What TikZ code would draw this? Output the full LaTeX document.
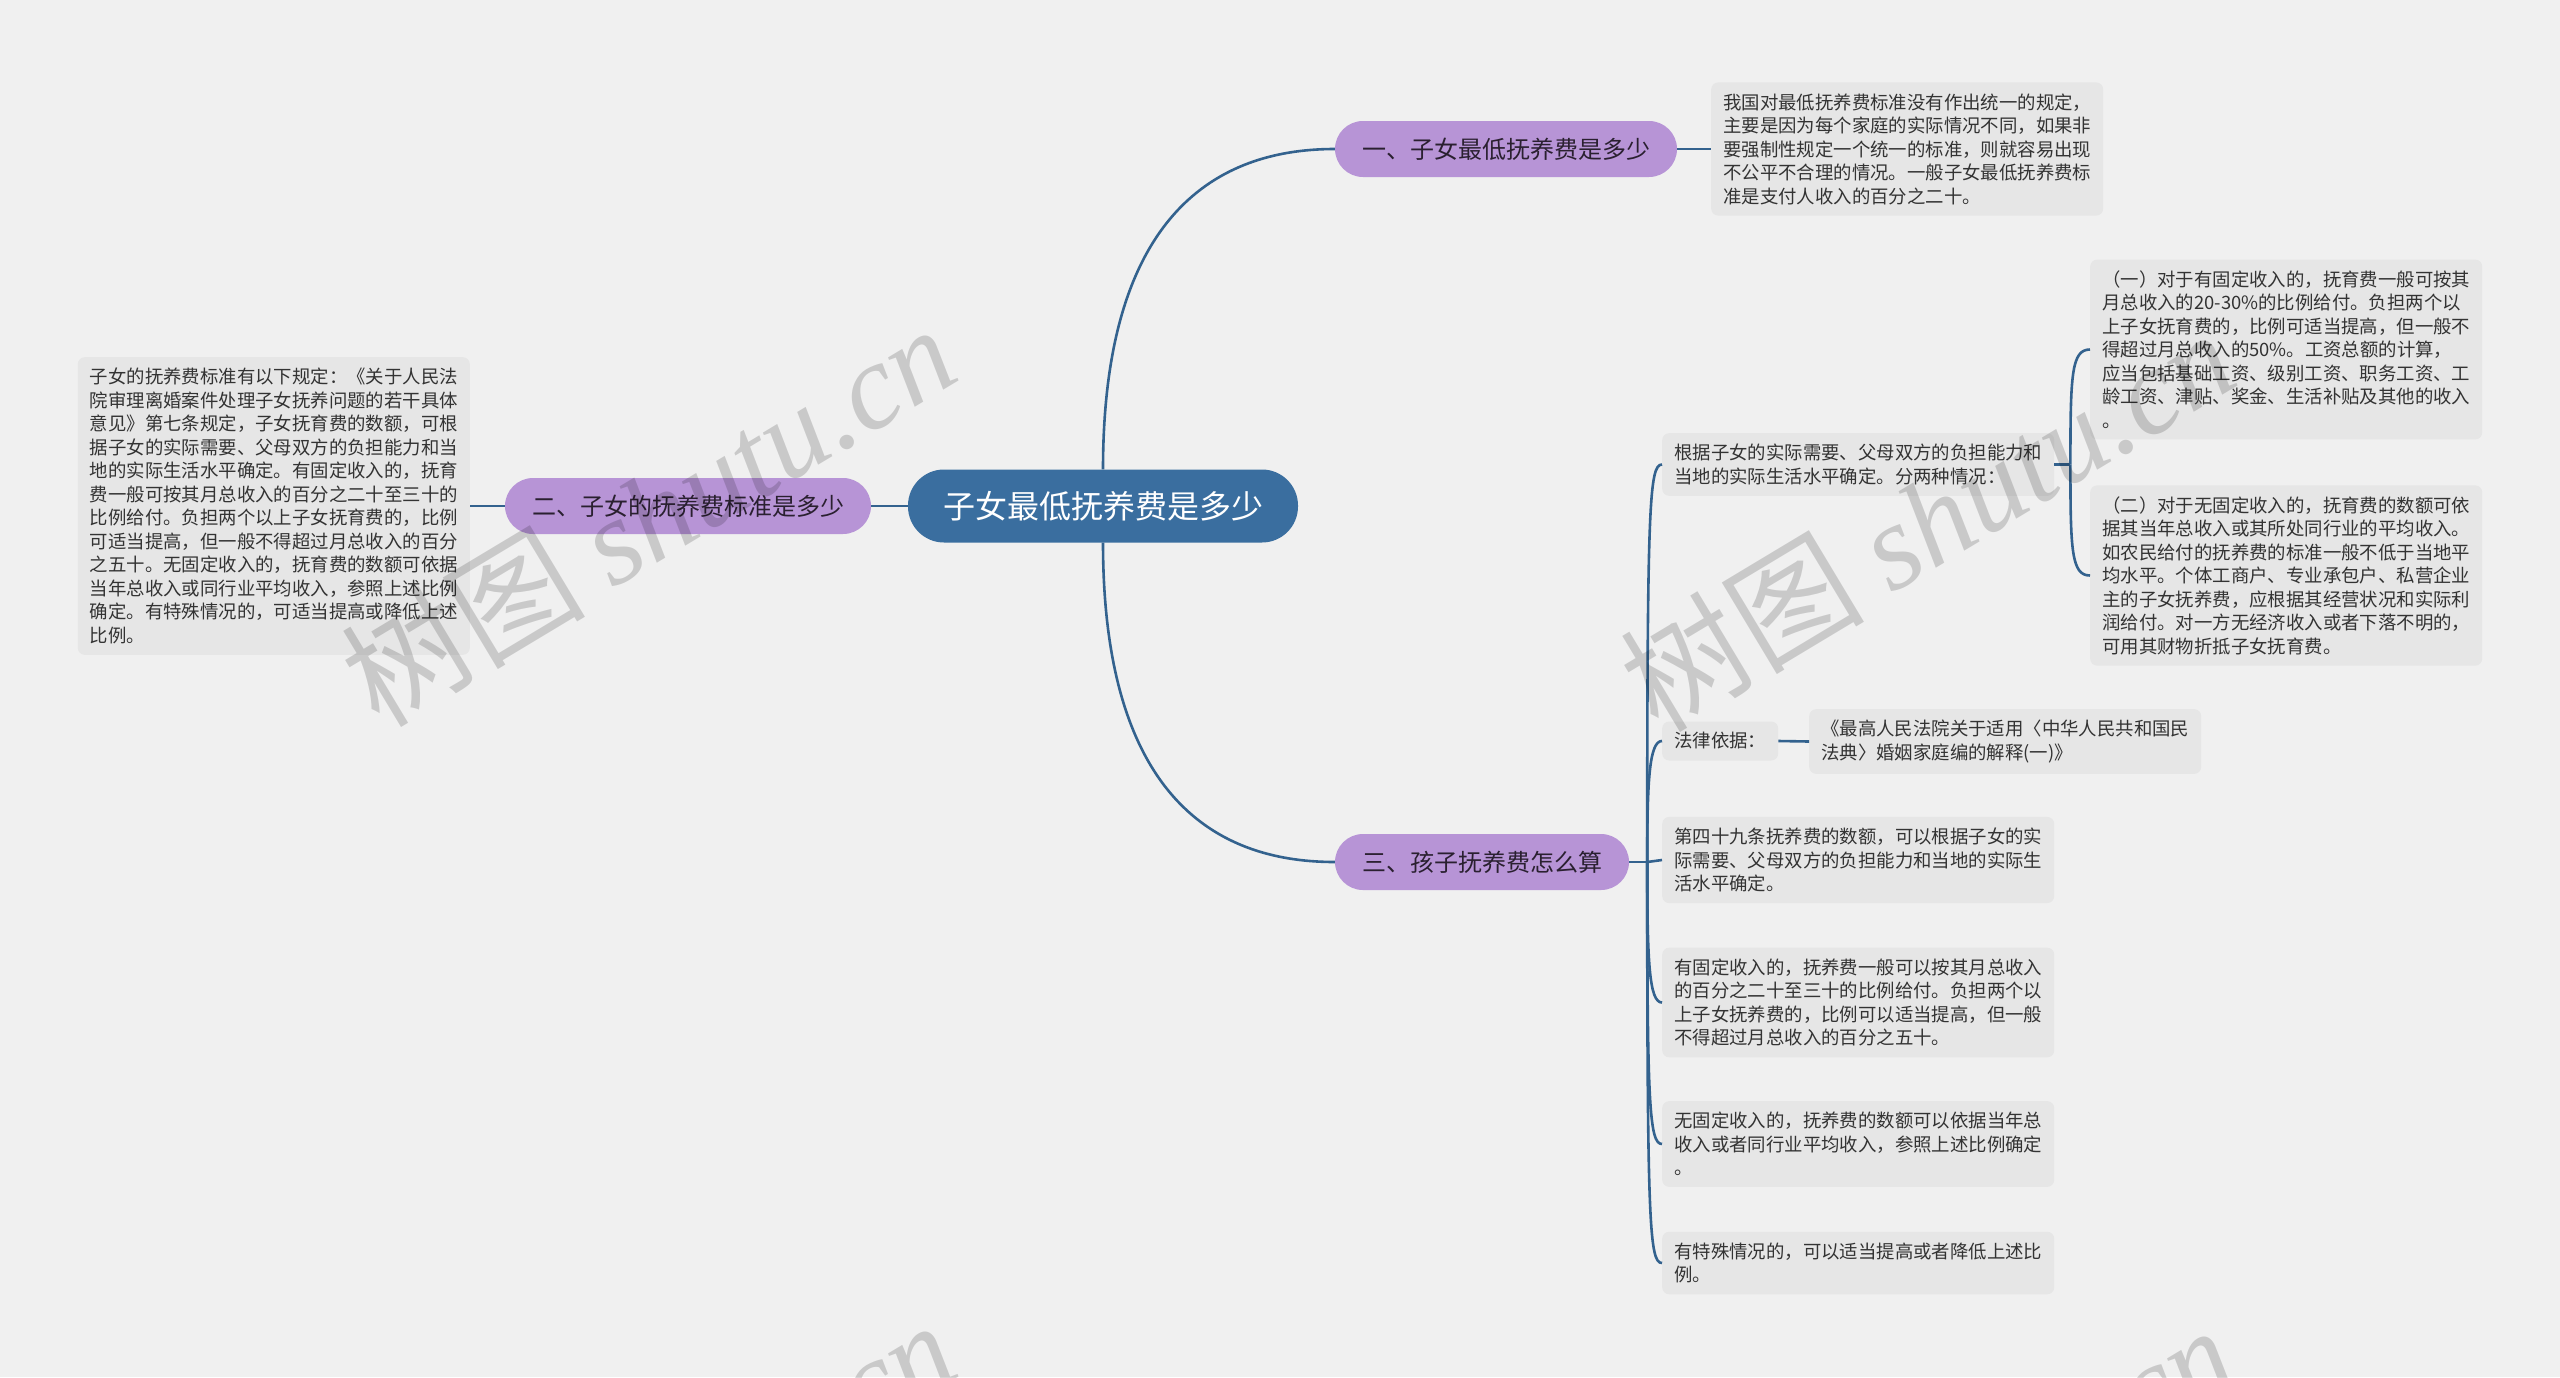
\documentclass[tikz,border=0pt]{standalone}
\usepackage{fontspec}
\setmainfont{Noto Sans CJK SC}
\newfontfamily\wmlatin{Liberation Serif}
\usetikzlibrary{calc}
\definecolor{bgc}{HTML}{F0F0F0}
\definecolor{rootc}{HTML}{3A6E9F}
\definecolor{branchc}{HTML}{B794D6}
\definecolor{leafc}{HTML}{E6E6E6}
\definecolor{linec}{HTML}{33628E}
\definecolor{txtc}{HTML}{333333}
\definecolor{btxt}{HTML}{2A2030}
\tikzset{
  rootbox/.style={fill=rootc, text=white, rounded corners=36pt, inner xsep=35pt, inner ysep=0pt,
    minimum height=73pt, font=\fontsize{32}{38}\selectfont},
  branchbox/.style={fill=branchc, text=btxt, rounded corners=28pt, inner xsep=27pt, inner ysep=0pt,
    minimum height=56pt, font=\fontsize{24}{28}\selectfont},
  leafbox/.style={fill=leafc, text=txtc, rounded corners=7pt, inner xsep=12pt, inner ysep=11pt,
    align=left, font=\fontsize{18.4}{23.5}\selectfont},
  wide/.style={text width=368pt},
  conn/.style={draw=linec, line width=2.6pt},
  wm/.style={text=black, opacity=0.16, font=\fontsize{122}{130}\selectfont, rotate=31}
}
\begin{document}
\begin{tikzpicture}[x=1pt,y=-1pt]
\useasboundingbox (0,0) rectangle (2560,1377);
\clip (0,0) rectangle (2560,1377);
\fill[bgc] (0,0) rectangle (2560,1377);

% main nodes
\node[rootbox] (root) at (1103,506) {子女最低抚养费是多少};
\node[branchbox] (b1) at (1506,149) {一、子女最低抚养费是多少};
\node[branchbox] (b2) at (688,506) {二、子女的抚养费标准是多少};
\node[branchbox] (b3) at (1482,862) {三、孩子抚养费怎么算};

% leaves
\node[leafbox, wide, anchor=west] (l1) at (1711,149) {我国对最低抚养费标准没有作出统一的规定，\\主要是因为每个家庭的实际情况不同，如果非\\要强制性规定一个统一的标准，则就容易出现\\不公平不合理的情况。一般子女最低抚养费标\\准是支付人收入的百分之二十。};

\node[leafbox, wide, anchor=east] (l2) at (470,506) {子女的抚养费标准有以下规定：《关于人民法\\院审理离婚案件处理子女抚养问题的若干具体\\意见》第七条规定，子女抚育费的数额，可根\\据子女的实际需要、父母双方的负担能力和当\\地的实际生活水平确定。有固定收入的，抚育\\费一般可按其月总收入的百分之二十至三十的\\比例给付。负担两个以上子女抚育费的，比例\\可适当提高，但一般不得超过月总收入的百分\\之五十。无固定收入的，抚育费的数额可依据\\当年总收入或同行业平均收入，参照上述比例\\确定。有特殊情况的，可适当提高或降低上述\\比例。};

\node[leafbox, wide, anchor=west] (c3a) at (1662,464.5) {根据子女的实际需要、父母双方的负担能力和\\当地的实际生活水平确定。分两种情况：};
\node[leafbox, wide, anchor=west] (c3a1) at (2090,349.5) {（一）对于有固定收入的，抚育费一般可按其\\月总收入的20-30\%的比例给付。负担两个以\\上子女抚育费的，比例可适当提高，但一般不\\得超过月总收入的50\%。工资总额的计算，\\应当包括基础工资、级别工资、职务工资、工\\龄工资、津贴、奖金、生活补贴及其他的收入\\。};
\node[leafbox, wide, anchor=west] (c3a2) at (2090,575.5) {（二）对于无固定收入的，抚育费的数额可依\\据其当年总收入或其所处同行业的平均收入。\\如农民给付的抚养费的标准一般不低于当地平\\均水平。个体工商户、专业承包户、私营企业\\主的子女抚养费，应根据其经营状况和实际利\\润给付。对一方无经济收入或者下落不明的，\\可用其财物折抵子女抚育费。};
\node[leafbox, anchor=west] (c3b) at (1662,741) {法律依据：};
\node[leafbox, wide, anchor=west] (c3b1) at (1809,741.5) {《最高人民法院关于适用〈中华人民共和国民\\法典〉婚姻家庭编的解释(一)》};
\node[leafbox, wide, anchor=west] (c3c) at (1662,860) {第四十九条抚养费的数额，可以根据子女的实\\际需要、父母双方的负担能力和当地的实际生\\活水平确定。};
\node[leafbox, wide, anchor=west] (c3d) at (1662,1002.5) {有固定收入的，抚养费一般可以按其月总收入\\的百分之二十至三十的比例给付。负担两个以\\上子女抚养费的，比例可以适当提高，但一般\\不得超过月总收入的百分之五十。};
\node[leafbox, wide, anchor=west] (c3e) at (1662,1144) {无固定收入的，抚养费的数额可以依据当年总\\收入或者同行业平均收入，参照上述比例确定\\。};
\node[leafbox, wide, anchor=west] (c3f) at (1662,1263) {有特殊情况的，可以适当提高或者降低上述比\\例。};

% connectors
\draw[conn] (root.north) .. controls +(0,-269) and +(-105,0) .. (b1.west);
\draw[conn] (root.south) .. controls +(0,269) and +(-105,0) .. (b3.west);
\draw[conn] (root.west) -- (b2.east);
\draw[conn] (b2.west) -- (l2.east);
\draw[conn] (b1.east) -- (l1.west);
\draw[conn] (c3b.east) -- (c3b1.west);

\coordinate (j3) at ($(b3.east)+(18,0)$);
\draw[conn] (b3.east) -- (j3);
\draw[conn] (j3) .. controls ($(j3|-c3a.west)+(0,40)$) and ($(j3|-c3a.west)+(2,0)$) .. (c3a.west);
\draw[conn] (j3) .. controls ($(j3|-c3b.west)+(0,40)$) and ($(j3|-c3b.west)+(2,0)$) .. (c3b.west);
\draw[conn] (j3) -- (c3c.west);
\draw[conn] (j3) .. controls ($(j3|-c3d.west)+(0,-40)$) and ($(j3|-c3d.west)+(2,0)$) .. (c3d.west);
\draw[conn] (j3) .. controls ($(j3|-c3e.west)+(0,-40)$) and ($(j3|-c3e.west)+(2,0)$) .. (c3e.west);
\draw[conn] (j3) .. controls ($(j3|-c3f.west)+(0,-40)$) and ($(j3|-c3f.west)+(2,0)$) .. (c3f.west);

\coordinate (j3a) at ($(c3a.east)+(16,0)$);
\draw[conn] (c3a.east) -- (j3a);
\draw[conn] (j3a) .. controls ($(j3a|-c3a1.west)+(0,25)$) and ($(j3a|-c3a1.west)+(1,0)$) .. (c3a1.west);
\draw[conn] (j3a) .. controls ($(j3a|-c3a2.west)+(0,-25)$) and ($(j3a|-c3a2.west)+(1,0)$) .. (c3a2.west);

% watermarks
\node[wm] (wm1) at (648,514) {树图 {\wmlatin\itshape shutu.cn}};
\node[wm] (wm2) at (1927,519) {树图 {\wmlatin\itshape shutu.cn}};
\node[wm] (wm3) at (648,1510) {树图 {\wmlatin\itshape shutu.cn}};
\node[wm] (wm4) at (1927,1515) {树图 {\wmlatin\itshape shutu.cn}};
\end{tikzpicture}
\end{document}
